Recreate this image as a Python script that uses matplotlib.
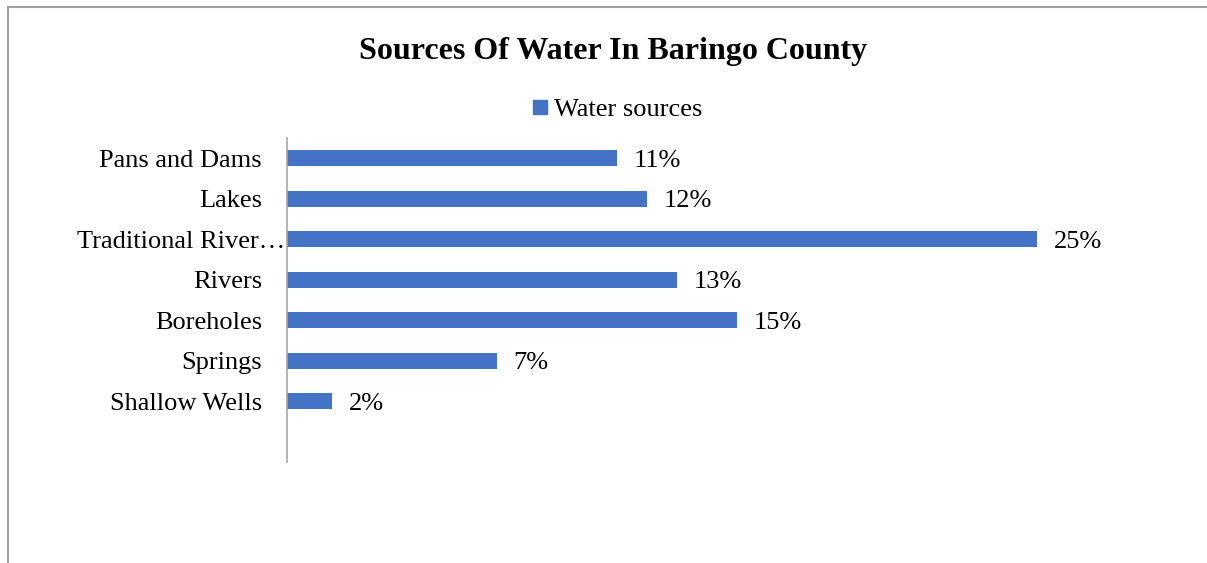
import matplotlib.pyplot as plt
from matplotlib.lines import Line2D
from matplotlib.transforms import ScaledTranslation

# Chart data (top to bottom as shown)
categories = ["Pans and Dams", "Lakes", "Traditional River\u2026", "Rivers",
              "Boreholes", "Springs", "Shallow Wells"]
values = [11, 12, 25, 13, 15, 7, 1.5]
value_labels = ["11%", "12%", "25%", "13%", "15%", "7%", "2%"]
series_name = "Water sources"

BAR_COLOR = "#4472C4"
plt.rcParams["font.family"] = ["Liberation Serif", "DejaVu Serif"]

fig = plt.figure(figsize=(12.07, 5.63), dpi=100)
ax = fig.add_axes([0.2378, 0.1794, 0.7456, 0.5755])

# categories sit at 7..1, leaving an empty slot at the bottom like the original
pos = list(range(len(categories), 0, -1))
ax.barh(pos, values, height=0.4, color=BAR_COLOR)
for p, v, lab in zip(pos, values, value_labels):
    ax.text(v + 0.55, p, lab, va="center_baseline", ha="left", fontsize=19)

ax.set_yticks(pos)
ax.set_yticklabels(categories, fontsize=19, va="center_baseline")
ax.tick_params(axis="y", length=0, pad=18)
# truncated label runs right up to the axis, as Excel draws it
for lbl in ax.get_yticklabels():
    if lbl.get_text().endswith("\u2026"):
        lbl.set_transform(lbl.get_transform() + ScaledTranslation(0.23, 0, fig.dpi_scale_trans))
ax.set_xticks([])
ax.set_xlim(0, 30)
ax.set_ylim(-0.5, len(categories) + 0.5)
for side in ["top", "right", "bottom"]:
    ax.spines[side].set_visible(False)
ax.spines["left"].set_color("#A6A6A6")
ax.spines["left"].set_linewidth(1.2)

fig.text(0.508, 0.908, "Sources Of Water In Baringo County",
         ha="center", va="center", fontsize=23, fontweight="bold")

handle = Line2D([], [], marker="s", linestyle="none", color=BAR_COLOR, markersize=10)
fig.legend([handle], [series_name], loc="center", bbox_to_anchor=(0.509, 0.806),
           frameon=False, fontsize=19, handletextpad=0.05, handlelength=1.0)

# chart frame (cropped on the right and bottom)
fig.add_artist(Line2D([0.0066, 1.0], [0.9876, 0.9876], color="#A0A0A0", lw=1.5))
fig.add_artist(Line2D([0.0066, 0.0066], [0.0, 0.9876], color="#A0A0A0", lw=1.5))

fig.savefig("out.png", dpi=100)
